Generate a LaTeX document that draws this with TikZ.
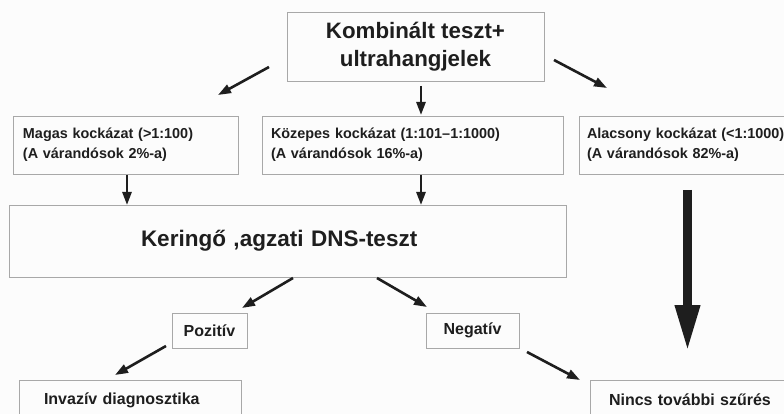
\documentclass[tikz,border=0pt]{standalone}
\usepackage{fontspec}
\setmainfont{Liberation Sans}
\usetikzlibrary{arrows.meta}
\definecolor{ink}{HTML}{1E1E1E}
\definecolor{frame}{HTML}{A8A8A8}
\definecolor{paper}{HTML}{FCFCFC}

\begin{document}
\begin{tikzpicture}[
    x=1pt, y=-1pt,
    box/.style={rectangle, draw=frame, line width=0.9pt, anchor=north west, inner ysep=0pt, outer sep=0pt, text=ink},
    bigbox/.style={box, align=center, font=\bfseries\fontsize{22.3}{28}\selectfont},
    riskbox/.style={box, align=left, minimum height=58pt, font=\bfseries\fontsize{14.4}{20}\selectfont},
    resbox/.style={box, align=center, minimum height=35pt, inner xsep=0pt, font=\bfseries\fontsize{16}{19}\selectfont},
    endbox/.style={box, align=left, minimum height=40pt, font=\bfseries\fontsize{16}{19}\selectfont},
    arrow/.style={-{Triangle[length=13pt,width=9pt]}, line width=2.6pt, draw=ink},
    bigarrow/.style={-{Triangle[length=47pt,width=23pt]}, line width=9.5pt, draw=ink}
]
    \clip (0,0) rectangle (784,414);
    \fill [paper] (0,0) rectangle (784,414);

    % screening
    \node [bigbox, minimum width=257pt, minimum height=69pt] (top) at (287,12) {Kombinált teszt+\\ultrahangjelek};

    % risk groups
    \node [riskbox, inner xsep=10pt, text width=205pt] (magas) at (13,116) {Magas kockázat (>1:100)\\(A várandósok 2\%-a)};
    \node [riskbox, inner xsep=9pt, text width=283pt] (kozepes) at (262,116) {Közepes kockázat (1:101–1:1000)\\(A várandósok 16\%-a)};
    \node [riskbox, inner xsep=8pt, text width=214pt] (alacsony) at (579,116) {Alacsony kockázat (<1:1000)\\(A várandósok 82\%-a)};

    % cfDNA test
    \node [box, align=left, inner xsep=132pt, text width=293pt, minimum height=72pt, font=\bfseries\fontsize{22.5}{27}\selectfont] (dns) at (9,205) {Keringő ,agzati DNS-teszt};

    % results
    \node [resbox, minimum width=75pt] (pozitiv) at (172,313) {Pozitív};
    \node [resbox, minimum width=93pt] (negativ) at (426,313) {Negatív};

    \node [endbox, inner xsep=25pt, text width=172pt] (invaziv) at (19,380) {Invazív diagnosztika};
    \node [endbox, inner xsep=19pt, text width=200pt] (nincs) at (590,380) {Nincs további szűrés};

    \draw [arrow] ([shift={(-18,20.5)}]top.west) -- ([shift={(92.5,-21)}]magas.north);
    \draw [arrow] ([shift={(5.5,5)}]top.south) -- ([shift={(8.5,-1)}]kozepes.north);
    \draw [arrow] ([shift={(10,13.5)}]top.east) -- ([shift={(28,-28)}]alacsony.north west);

    \draw [arrow] ([shift={(1.5,1)}]magas.south) -- ([shift={(118,0)}]dns.north west);
    \draw [arrow] ([shift={(8.5,1)}]kozepes.south) -- ([shift={(412,0)}]dns.north west);
    \draw [bigarrow] ([shift={(108.5,16)}]alacsony.south west) -- ([shift={(97.5,-28)}]nincs.north west);

    \draw [arrow] ([shift={(284,1)}]dns.south west) -- ([shift={(32.5,-5)}]pozitiv.north);
    \draw [arrow] ([shift={(368,1)}]dns.south west) -- ([shift={(1,-6)}]negativ.north west);
    \draw [arrow] ([shift={(-6,-2)}]pozitiv.south west) -- ([shift={(96,-5)}]invaziv.north west);
    \draw [arrow] ([shift={(8,4)}]negativ.south east) -- ([shift={(-10,0)}]nincs.north west);
\end{tikzpicture}
\end{document}
